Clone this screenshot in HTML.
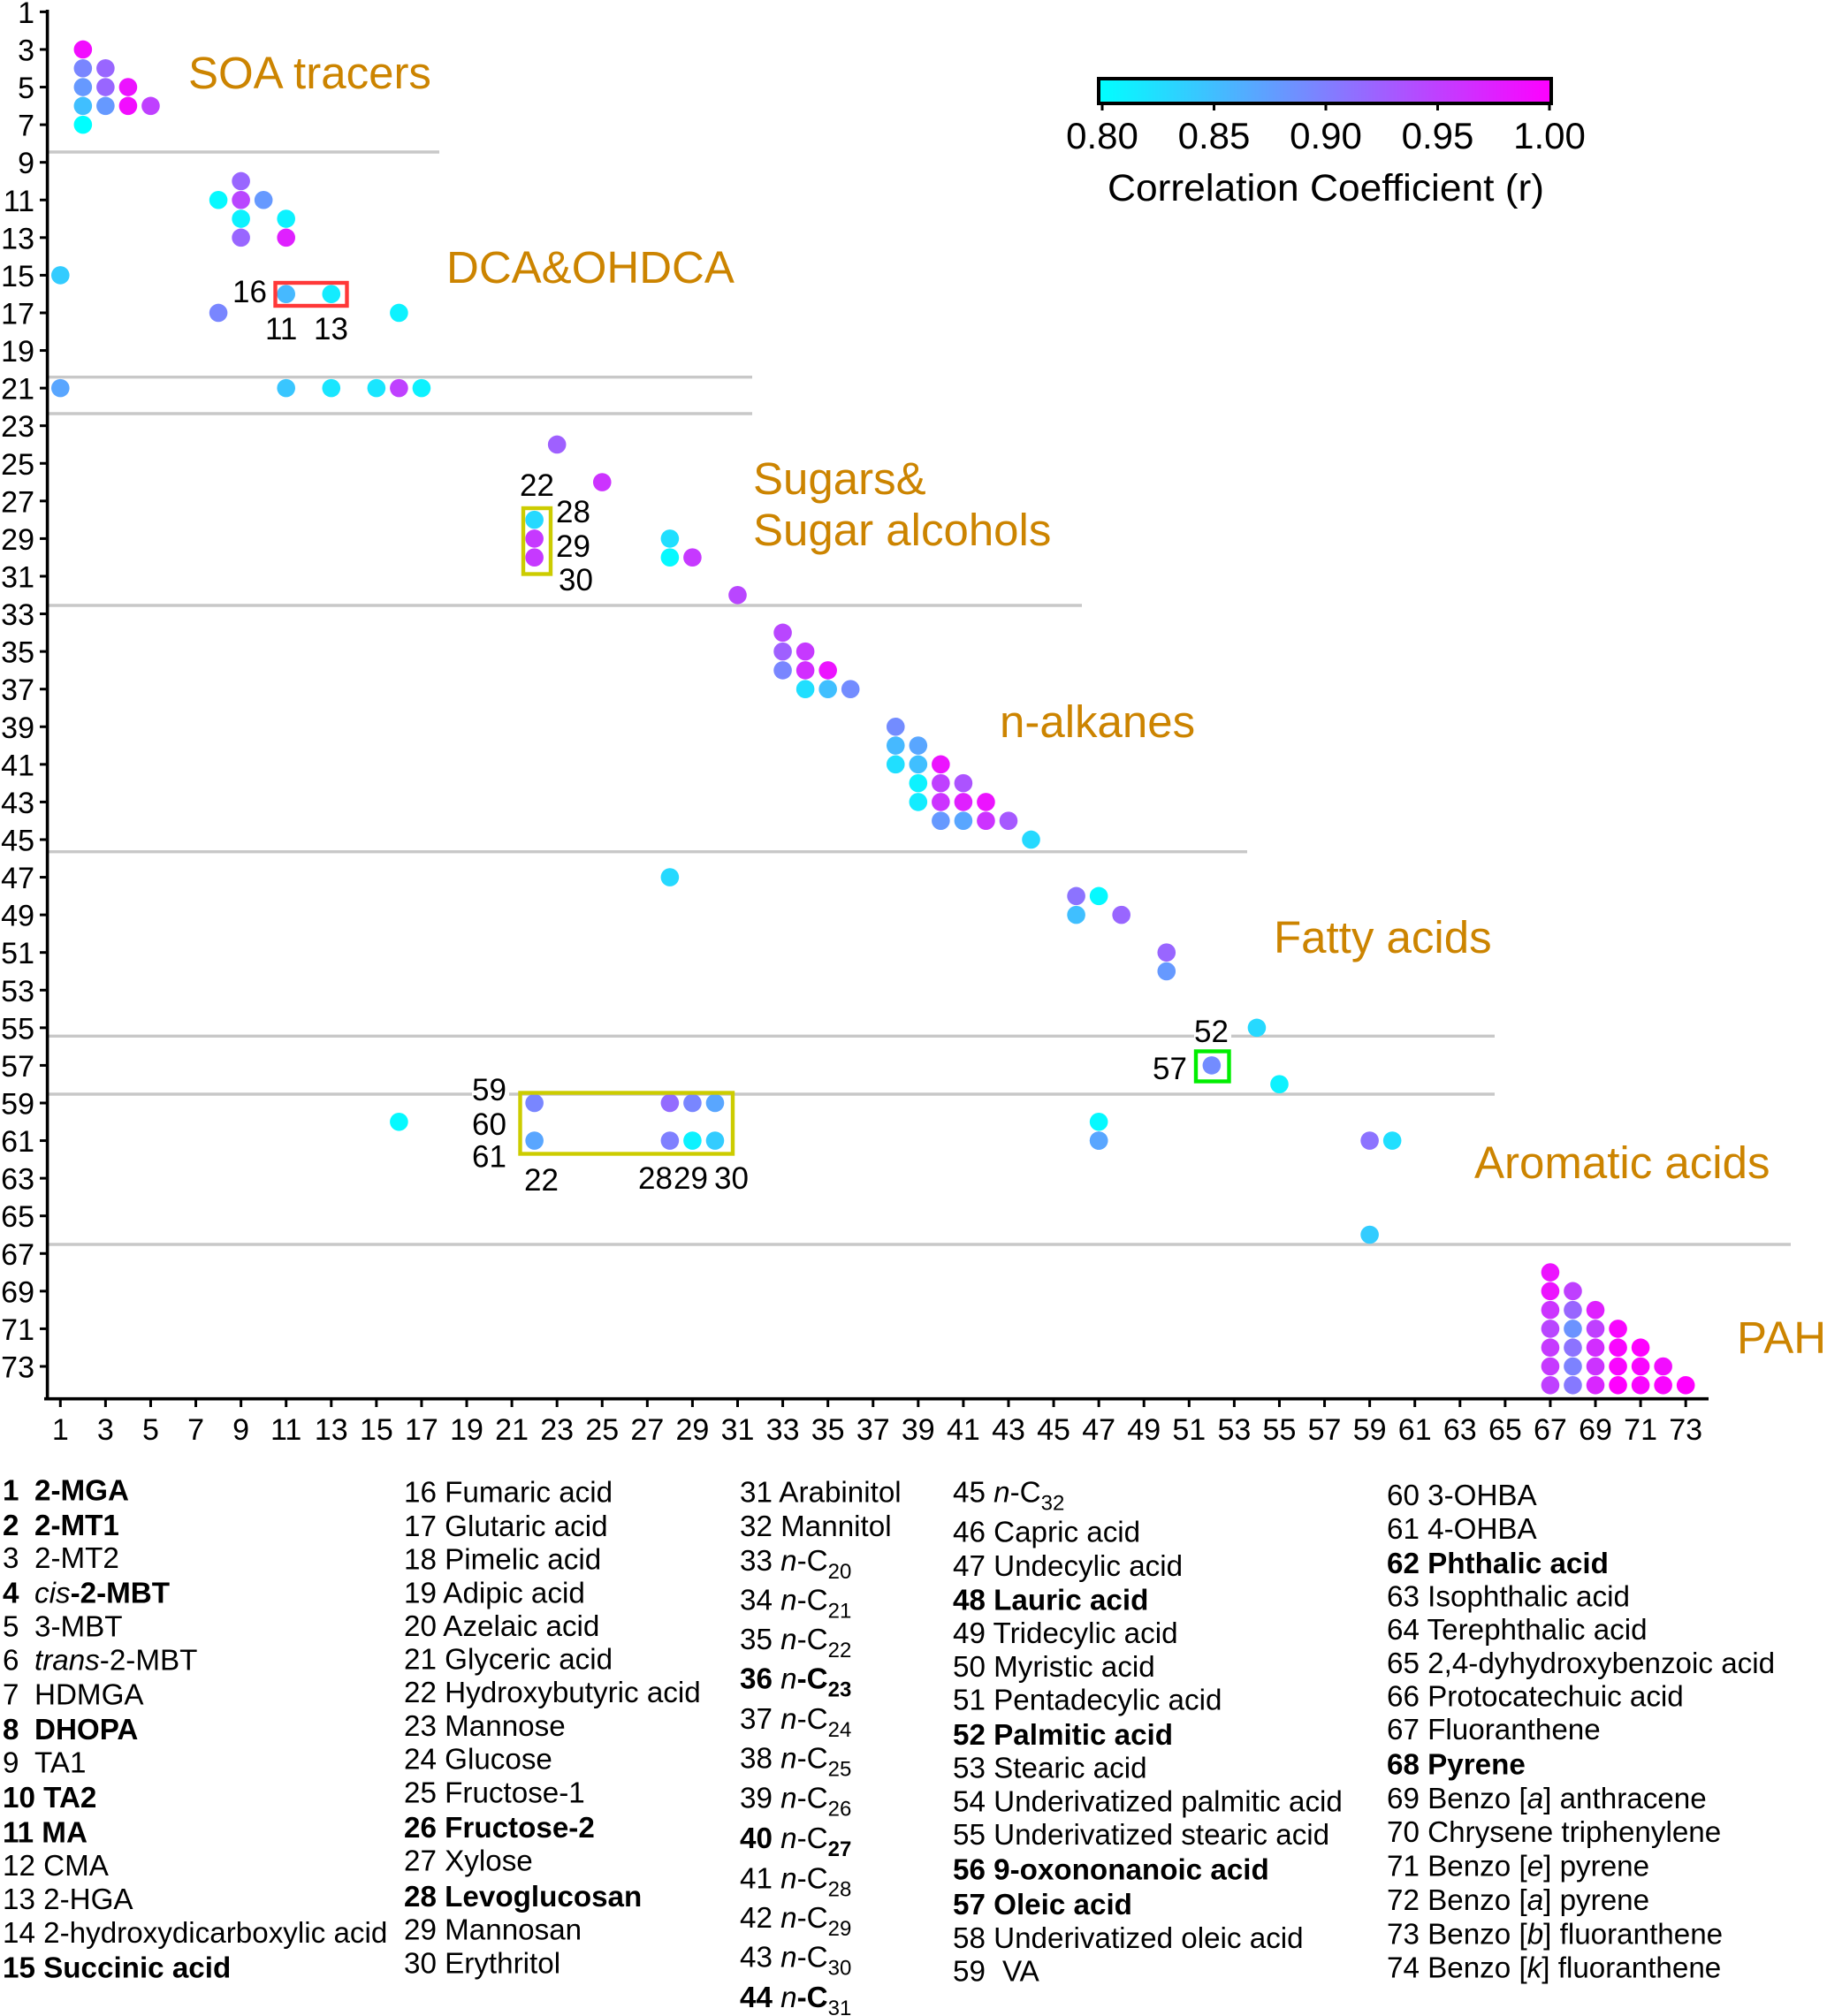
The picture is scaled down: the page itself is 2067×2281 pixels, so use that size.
<!DOCTYPE html>
<html lang="en">
<head>
<meta charset="utf-8">
<title>Correlation matrix of organic tracers</title>
<style>
html,body{margin:0;padding:0;background:#fff;}
svg{display:block;font-family:"Liberation Sans",Arial,sans-serif;}
.g{font-size:51px;fill:#cc8400;}
.a{font-size:35px;fill:#000;}
.l{font-size:33.2px;fill:#000;}
.b{font-weight:bold;}
.i{font-style:italic;font-weight:normal;}
.s{font-size:24px;}
</style>
</head>
<body>
<svg id="chart" xmlns="http://www.w3.org/2000/svg" width="2067" height="2281" viewBox="0 0 2067 2281">
<defs>
<linearGradient id="cbGrad" x1="0" x2="1" y1="0" y2="0"><stop offset="0" stop-color="#00ffff"/><stop offset="1" stop-color="#ff00ff"/></linearGradient>
</defs>
<rect x="0" y="0" width="2067" height="2281" fill="#fff"/>

<g id="separators" stroke="#c8c8c8" stroke-width="3.4">
<line x1="55" x2="497" y1="172" y2="172"/>
<line x1="55" x2="851" y1="426.7" y2="426.7"/>
<line x1="55" x2="851" y1="468" y2="468"/>
<line x1="55" x2="1224" y1="685" y2="685"/>
<line x1="55" x2="1411" y1="963.7" y2="963.7"/>
<line x1="55" x2="1691" y1="1172.3" y2="1172.3"/>
<line x1="55" x2="1691" y1="1238" y2="1238"/>
<line x1="55" x2="2026" y1="1408" y2="1408"/>
</g>
<rect x="1351" y="1165" width="42" height="14" fill="#fff"/>
<rect x="534" y="1232" width="42" height="14" fill="#fff"/>

<g id="axes"></g>
<g id="points"></g>

<g fill="none" stroke-width="4.4">
<rect x="311.5" y="320" width="81" height="26" stroke="#ff3838"/>
<rect x="592" y="575" width="31" height="74.5" stroke="#cccc00"/>
<rect x="588.5" y="1236.5" width="240.5" height="69" stroke="#cccc00"/>
<rect x="1353" y="1189.5" width="37.5" height="34" stroke="#00ee00"/>
</g>

<g class="a">
<text class="a" x="263" y="342">16</text>
<text class="a" x="300" y="384">11</text>
<text class="a" x="355" y="384">13</text>
<text class="a" x="588" y="561">22</text>
<text class="a" x="629" y="591">28</text>
<text class="a" x="629" y="630">29</text>
<text class="a" x="632" y="668">30</text>
<text class="a" x="534" y="1245">59</text>
<text class="a" x="534" y="1284">60</text>
<text class="a" x="534" y="1320.7">61</text>
<text class="a" x="593" y="1347">22</text>
<text class="a" x="722" y="1345">28</text>
<text class="a" x="762" y="1345">29</text>
<text class="a" x="808" y="1345">30</text>
<text class="a" x="1351" y="1179">52</text>
<text class="a" x="1304" y="1221">57</text>
</g>

<g>
<text class="g" x="213" y="100">SOA tracers</text>
<text class="g" x="505" y="320">DCA&amp;OHDCA</text>
<text class="g" x="852" y="559">Sugars&amp;</text>
<text class="g" x="852" y="617">Sugar alcohols</text>
<text class="g" x="1131" y="834">n-alkanes</text>
<text class="g" x="1441" y="1078">Fatty acids</text>
<text class="g" x="1668" y="1333">Aromatic acids</text>
<text class="g" x="1965" y="1531">PAH</text>
</g>

<g id="colorbar">
<rect x="1243" y="89" width="512" height="28" fill="url(#cbGrad)" stroke="#000" stroke-width="4"/>
<text x="1500" y="227" font-size="43" text-anchor="middle" textLength="494" lengthAdjust="spacingAndGlyphs">Correlation Coefficient (r)</text>
</g>

<g class="l">
<text class="l b" x="3" y="1697.6">1<tspan x="39">2-MGA</tspan></text>
<text class="l b" x="3" y="1737.2">2<tspan x="39">2-MT1</tspan></text>
<text class="l" x="3" y="1774">3<tspan x="39">2-MT2</tspan></text>
<text class="l b" x="3" y="1813.7">4<tspan x="39" class="i">cis</tspan>-2-MBT</text>
<text class="l" x="3" y="1851.3">5<tspan x="39">3-MBT</tspan></text>
<text class="l" x="3" y="1889.7">6<tspan x="39" class="i">trans</tspan>-2-MBT</text>
<text class="l" x="3" y="1928.5">7<tspan x="39">HDMGA</tspan></text>
<text class="l b" x="3" y="1968.1">8<tspan x="39">DHOPA</tspan></text>
<text class="l" x="3" y="2005.7">9<tspan x="39">TA1</tspan></text>
<text class="l b" x="3" y="2045">10 TA2</text>
<text class="l b" x="3" y="2084.6">11 MA</text>
<text class="l" x="3" y="2122.2">12 CMA</text>
<text class="l" x="3" y="2159.8">13 2-HGA</text>
<text class="l" x="3" y="2197.8">14 2-hydroxydicarboxylic acid</text>
<text class="l b" x="3" y="2237.4">15 Succinic acid</text>
</g>

<g class="l">
<text class="l" x="457" y="1699.6">16 Fumaric acid</text>
<text class="l" x="457" y="1738">17 Glutaric acid</text>
<text class="l" x="457" y="1775.6">18 Pimelic acid</text>
<text class="l" x="457" y="1813.3">19 Adipic acid</text>
<text class="l" x="457" y="1850.9">20 Azelaic acid</text>
<text class="l" x="457" y="1888.5">21 Glyceric acid</text>
<text class="l" x="457" y="1926.1">22 Hydroxybutyric acid</text>
<text class="l" x="457" y="1964.2">23 Mannose</text>
<text class="l" x="457" y="2001.4">24 Glucose</text>
<text class="l" x="457" y="2039.4">25 Fructose-1</text>
<text class="l b" x="457" y="2079">26 Fructose-2</text>
<text class="l" x="457" y="2116.6">27 Xylose</text>
<text class="l b" x="457" y="2157">28 Levoglucosan</text>
<text class="l" x="457" y="2194.7">29 Mannosan</text>
<text class="l" x="457" y="2232.3">30 Erythritol</text>
</g>

<g class="l">
<text class="l" x="837" y="1699.6">31 Arabinitol</text>
<text class="l" x="837" y="1738">32 Mannitol</text>
<text class="l" x="837" y="1776.8">33 <tspan class="i">n</tspan>-C<tspan class="s" dy="9">20</tspan></text>
<text class="l" x="837" y="1821.6">34 <tspan class="i">n</tspan>-C<tspan class="s" dy="9">21</tspan></text>
<text class="l" x="837" y="1866">35 <tspan class="i">n</tspan>-C<tspan class="s" dy="9">22</tspan></text>
<text class="l b" x="837" y="1910.7">36 <tspan class="i">n</tspan>-C<tspan class="s" dy="9">23</tspan></text>
<text class="l" x="837" y="1956.2">37 <tspan class="i">n</tspan>-C<tspan class="s" dy="9">24</tspan></text>
<text class="l" x="837" y="2000.6">38 <tspan class="i">n</tspan>-C<tspan class="s" dy="9">25</tspan></text>
<text class="l" x="837" y="2045.3">39 <tspan class="i">n</tspan>-C<tspan class="s" dy="9">26</tspan></text>
<text class="l" x="837" y="2090.9"><tspan class="b">40</tspan> <tspan class="i">n</tspan>-C<tspan class="s b" dy="9">27</tspan></text>
<text class="l" x="837" y="2136.4">41 <tspan class="i">n</tspan>-C<tspan class="s" dy="9">28</tspan></text>
<text class="l" x="837" y="2180.8">42 <tspan class="i">n</tspan>-C<tspan class="s" dy="9">29</tspan></text>
<text class="l" x="837" y="2225.5">43 <tspan class="i">n</tspan>-C<tspan class="s" dy="9">30</tspan></text>
<text class="l b" x="837" y="2271.1">44 <tspan class="i">n</tspan>-C<tspan class="s" dy="9" font-weight="normal">31</tspan></text>
</g>

<g class="l">
<text class="l" x="1078" y="1699.6">45 <tspan class="i">n</tspan>-C<tspan class="s" dy="9">32</tspan></text>
<text class="l" x="1078" y="1744.4">46 Capric acid</text>
<text class="l" x="1078" y="1782.8">47 Undecylic acid</text>
<text class="l b" x="1078" y="1821.6">48 Lauric acid</text>
<text class="l" x="1078" y="1859.2">49 Tridecylic acid</text>
<text class="l" x="1078" y="1896.8">50 Myristic acid</text>
<text class="l" x="1078" y="1934.5">51 Pentadecylic acid</text>
<text class="l b" x="1078" y="1974">52 Palmitic acid</text>
<text class="l" x="1078" y="2011.7">53 Stearic acid</text>
<text class="l" x="1078" y="2049.3">54 Underivatized palmitic acid</text>
<text class="l" x="1078" y="2086.9">55 Underivatized stearic acid</text>
<text class="l b" x="1078" y="2126.5">56 9-oxononanoic acid</text>
<text class="l b" x="1078" y="2166.1">57 Oleic acid</text>
<text class="l" x="1078" y="2203.8">58 Underivatized oleic acid</text>
<text class="l" x="1078" y="2241.4">59<tspan x="1134">VA</tspan></text>
</g>

<g class="l">
<text class="l" x="1569" y="1702.8">60 3-OHBA</text>
<text class="l" x="1569" y="1740.8">61 4-OHBA</text>
<text class="l b" x="1569" y="1780">62 Phthalic acid</text>
<text class="l" x="1569" y="1817.6">63 Isophthalic acid</text>
<text class="l" x="1569" y="1855.2">64 Terephthalic acid</text>
<text class="l" x="1569" y="1892.9">65 2,4-dyhydroxybenzoic acid</text>
<text class="l" x="1569" y="1930.5">66 Protocatechuic acid</text>
<text class="l" x="1569" y="1968.1">67 Fluoranthene</text>
<text class="l b" x="1569" y="2007.7">68 Pyrene</text>
<text class="l" x="1569" y="2046.1">69 Benzo [<tspan class="i">a</tspan>] anthracene</text>
<text class="l" x="1569" y="2083.8">70 Chrysene triphenylene</text>
<text class="l" x="1569" y="2122.6">71 Benzo [<tspan class="i">e</tspan>] pyrene</text>
<text class="l" x="1569" y="2161">72 Benzo [<tspan class="i">a</tspan>] pyrene</text>
<text class="l" x="1569" y="2199.4">73 Benzo [<tspan class="i">b</tspan>] fluoranthene</text>
<text class="l" x="1569" y="2237.4">74 Benzo [<tspan class="i">k</tspan>] fluoranthene</text>
</g>
</svg>

<script>
// Category indices on each axis (compound numbers) and printed tick labels
const xTickLabels = [1,3,5,7,9,11,13,15,17,19,21,23,25,27,29,31,33,35,37,39,41,43,45,47,49,51,53,55,57,59,61,63,65,67,69,71,73];
const yTickLabels = [1,3,5,7,9,11,13,15,17,19,21,23,25,27,29,31,33,35,37,39,41,43,45,47,49,51,53,55,57,59,61,63,65,67,69,71,73];
const colorbarTickLabels = ["0.80","0.85","0.90","0.95","1.00"];
const colorbarTickValues = [0.80,0.85,0.90,0.95,1.00];

// Each significant correlation: compound on the y axis, compound on the x axis, coefficient r
const pointRows = [
 3,4,4,5,5,5,6,6,6,6,7,
 10,11,11,11,12,12,13,13,15,16,16,17,17,
 21,21,21,21,21,21,
 24,26,28,29,30,29,30,30,32,
 34,35,35,36,36,36,37,37,37,
 39,40,40,41,41,41,42,42,42,43,43,43,43,44,44,44,44,45,
 47,48,48,49,49,51,52,55,57,58,
 59,59,59,59,60,60,61,61,61,61,61,61,61,61,66,
 68,69,69,70,70,70,71,71,71,71,72,72,72,72,72,
 73,73,73,73,73,73,74,74,74,74,74,74,74
];
const pointCols = [
 2,2,3,2,3,4,2,3,4,5,2,
 9,8,9,10,9,11,9,11,1,11,13,8,16,
 1,11,13,15,16,17,
 23,25,22,22,22,28,28,29,31,
 33,33,34,33,34,35,34,35,36,
 38,38,39,38,39,40,39,40,41,39,40,41,42,40,41,42,43,44,
 28,46,47,46,48,50,50,54,52,55,
 22,28,29,30,16,47,22,28,29,30,47,59,60,47,59,
 67,67,68,67,68,69,67,68,69,70,67,68,69,70,71,
 67,68,69,70,71,72,67,68,69,70,71,72,73
];
const pointValues = [
 .99,.895,.92,.88,.92,.985,.85,.88,.99,.95,.80,
 .92,.805,.945,.88,.81,.81,.92,.975,.84,.855,.815,.895,.81,
 .87,.845,.82,.82,.95,.81,
 .925,.96,.83,.955,.955,.825,.805,.955,.945,
 .945,.925,.955,.895,.965,.985,.825,.85,.89,
 .89,.855,.87,.825,.85,.985,.81,.95,.935,.815,.96,.975,.985,.88,.87,.96,.93,.83,
 .83,.91,.805,.85,.92,.92,.88,.83,.89,.81,
 .895,.915,.895,.87,.805,.805,.87,.9,.81,.84,.87,.91,.825,.87,.84,
 .985,.985,.95,.96,.92,.975,.945,.885,.95,.995,.955,.91,.965,.995,1.0,
 .955,.898,.96,.995,.995,.99,.95,.905,.97,1.0,.995,.995,1.0
];

const svgNS = "http://www.w3.org/2000/svg";
function xScale(c){ return 68.3 + 25.54 * (c - 1); }
function yScale(r){ return 13.4 + 21.286 * (r - 1); }
function colorbarScale(v){ return 1247 + (v - 0.80) / 0.20 * 506; }
function colorScale(v){
  const t = Math.max(0, Math.min(1, (v - 0.80) / 0.20));
  return "rgb(" + Math.round(255 * t) + "," + Math.round(255 * (1 - t)) + ",255)";
}
function make(tag, attrs, parent, text){
  const el = document.createElementNS(svgNS, tag);
  for (const k in attrs) el.setAttribute(k, attrs[k]);
  if (text !== undefined) el.textContent = text;
  parent.appendChild(el);
  return el;
}

const axes = document.getElementById("axes");
const yAxisLine = make("line", {x1: 53.6, x2: 53.6, y1: 11, y2: 1584.5, stroke: "#000", "stroke-width": 3.6}, axes);


const xAxisLine = make("line", {x1: 50, x2: 1933, y1: 1582.7, y2: 1582.7, stroke: "#000", "stroke-width": 3.6}, axes);



yTickLabels.forEach(function(lab){
  const y = yScale(lab);
  const t = make("line", {x1: 45, x2: 53.6, y1: y, y2: y, stroke: "#000", "stroke-width": 3}, axes);
  
  
  const tx = make("text", {x: 39, y: y + 12.5, "font-size": 34, "text-anchor": "end"}, axes, String(lab));
  
  
});
xTickLabels.forEach(function(lab){
  const x = xScale(lab);
  const t = make("line", {x1: x, x2: x, y1: 1582.7, y2: 1592, stroke: "#000", "stroke-width": 3}, axes);
  
  
  const tx = make("text", {x: x, y: 1629, "font-size": 34, "text-anchor": "middle"}, axes, String(lab));
  
  
});

const pointsG = document.getElementById("points");
pointValues.forEach(function(v, i){
  const c = make("circle", {cx: xScale(pointCols[i]), cy: yScale(pointRows[i]), r: 10.3, fill: colorScale(v)}, pointsG);
  
  
});

const cb = document.getElementById("colorbar");
colorbarTickValues.forEach(function(v, i){
  const x = colorbarScale(v);
  const t = make("line", {x1: x, x2: x, y1: 117, y2: 125, stroke: "#000", "stroke-width": 3}, cb);
  
  
  const tx = make("text", {x: x, y: 168, "font-size": 42, "text-anchor": "middle"}, cb, colorbarTickLabels[i]);
  
  
});
</script>
</body>
</html>
